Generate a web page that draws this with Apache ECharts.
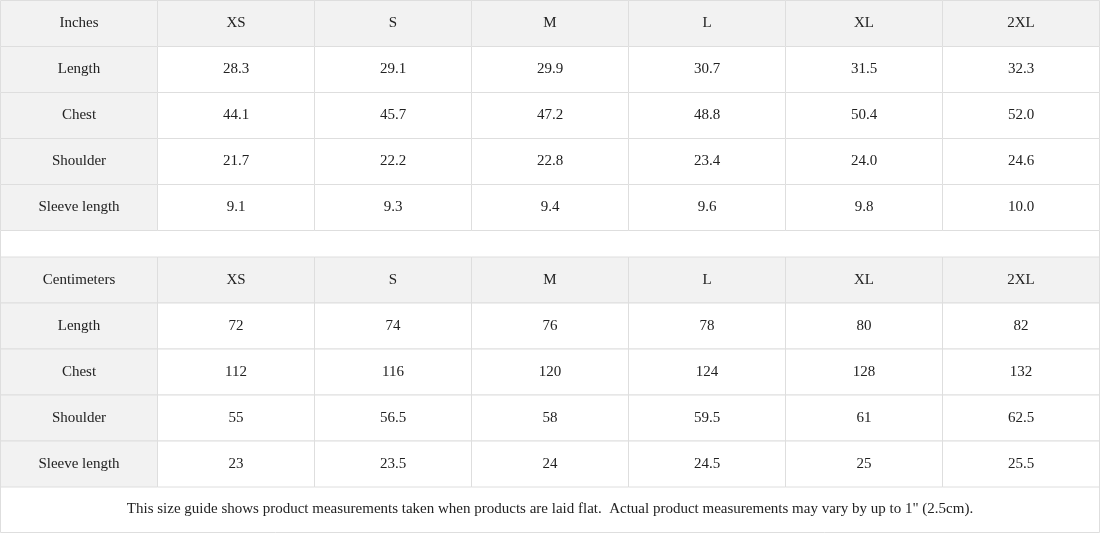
<!DOCTYPE html>
<html lang="en">
<head>
<meta charset="UTF-8">
<title>Size guide</title>
<script src="https://cdn.jsdelivr.net/npm/echarts@6/dist/echarts.min.js"></script>
<style>html,body{margin:0;padding:0;background:#fff}</style>
</head>
<body>
<div id="main" style="width:1100px;height:533px;"></div>
<script type="text/javascript">
var sizes = ['XS', 'S', 'M', 'L', 'XL', '2XL'];
var measures = ['Length', 'Chest', 'Shoulder', 'Sleeve length'];
var inches = [
    ['28.3', '29.1', '29.9', '30.7', '31.5', '32.3'],
    ['44.1', '45.7', '47.2', '48.8', '50.4', '52.0'],
    ['21.7', '22.2', '22.8', '23.4', '24.0', '24.6'],
    ['9.1', '9.3', '9.4', '9.6', '9.8', '10.0']
];
var centimeters = [
    ['72', '74', '76', '78', '80', '82'],
    ['112', '116', '120', '124', '128', '132'],
    ['55', '56.5', '58', '59.5', '61', '62.5'],
    ['23', '23.5', '24', '24.5', '25', '25.5']
];
var note = 'This size guide shows product measurements taken when products are laid flat.  Actual product measurements may vary by up to 1" (2.5cm).';

// build cell list: [col, row, text, header?]
function cells(unit, vals) {
    var out = [[0, 0, unit, 1]];
    sizes.forEach(function (s, i) { out.push([i + 1, 0, s, 1]); });
    measures.forEach(function (m, r) {
        out.push([0, r + 1, m, 1]);
        vals[r].forEach(function (v, c) { out.push([c + 1, r + 1, v, 0]); });
    });
    return out;
}

function renderCell(params, api) {
    var c = api.coord([api.value(0), api.value(1)]);
    var sz = api.size([1, 1]);
    var x = c[0] - sz[0] / 2, y = c[1] - sz[1] / 2;
    return {
        type: 'group',
        children: [
            { type: 'rect', shape: { x: x, y: y, width: sz[0], height: sz[1] },
              style: { fill: api.value(3) ? '#f2f2f2' : '#ffffff', stroke: '#dedede', lineWidth: 1 } },
            { type: 'text', style: { x: c[0], y: c[1], text: String(api.value(2)), align: 'center', verticalAlign: 'middle',
              fill: '#222', font: '15px "Liberation Serif", serif' } }
        ]
    };
}

var cols = ['c0'].concat(sizes);
var rows = ['r0'].concat(measures);
function ax(type, data, idx, inv) {
    return { type: 'category', data: data, gridIndex: idx, inverse: !!inv, show: false, boundaryGap: true };
}

var myChart = echarts.init(document.getElementById('main'));
myChart.setOption({
    animation: false,
    grid: [
        { left: 0.5, right: 0.5, top: 0.5, height: 230 },
        { left: 0.5, right: 0.5, top: 257, height: 230 }
    ],
    xAxis: [ax('x', cols, 0), ax('x', cols, 1)],
    yAxis: [ax('y', rows, 0, true), ax('y', rows, 1, true)],
    graphic: [
        { type: 'rect', shape: { x: 0.5, y: 230.5, width: 1099, height: 302 },
          style: { fill: 'none', stroke: '#dedede' }, z: -1 },
        { type: 'text', left: 'center', top: 502,
          style: { text: note, fill: '#222', font: '15px "Liberation Serif", serif' } }
    ],
    series: [
        { type: 'custom', xAxisIndex: 0, yAxisIndex: 0, renderItem: renderCell, data: cells('Inches', inches) },
        { type: 'custom', xAxisIndex: 1, yAxisIndex: 1, renderItem: renderCell, data: cells('Centimeters', centimeters) }
    ]
});
</script>
</body>
</html>
